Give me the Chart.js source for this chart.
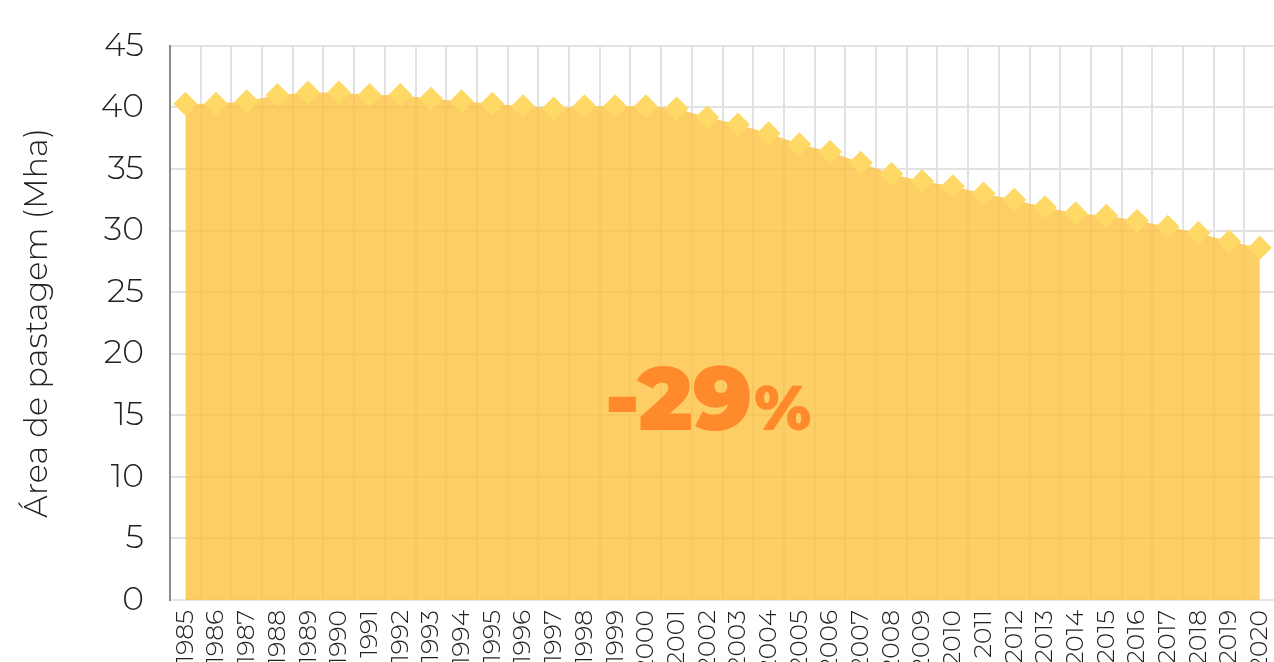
<!DOCTYPE html>
<html>
<head>
<meta charset="utf-8">
<script src="https://cdn.jsdelivr.net/npm/chart.js@4.4.1/dist/chart.umd.min.js"></script>
<style>
  html, body { margin: 0; padding: 0; background: #fff; overflow: hidden; }
  #wrap { width: 1300px; height: 684px; }
</style>
</head>
<body>
<div id="wrap"><canvas id="chart"></canvas></div>
<script>
// pasture area (Mha), 1985-2020
const years = ['1985','1986','1987','1988','1989','1990','1991','1992','1993','1994',
  '1995','1996','1997','1998','1999','2000','2001','2002','2003','2004',
  '2005','2006','2007','2008','2009','2010','2011','2012','2013','2014',
  '2015','2016','2017','2018','2019','2020'];
const pastureArea = [40.3, 40.3, 40.5, 41.0, 41.2, 41.2, 41.0, 41.0, 40.7, 40.5,
  40.3, 40.1, 39.9, 40.1, 40.1, 40.1, 39.9, 39.2, 38.6, 37.9,
  37.0, 36.4, 35.5, 34.6, 34.0, 33.6, 33.0, 32.5, 31.9, 31.4,
  31.2, 30.8, 30.3, 29.8, 29.1, 28.6];
const yTicks = [0, 5, 10, 15, 20, 25, 30, 35, 40, 45];
const changeLabel = '-29';

const FONT = "Montserrat, Lato, 'Open Sans', sans-serif";

// big "-29%" in the middle of the area
const changeText = {
  id: 'changeText',
  afterDatasetsDraw(chart) {
    const ctx = chart.ctx;
    ctx.save();
    ctx.fillStyle = '#FF8A2B';
    ctx.textBaseline = 'alphabetic';
    ctx.font = "900 90px " + FONT;
    const w1 = ctx.measureText(changeLabel).width;
    ctx.font = "900 62px " + FONT;
    const w2 = ctx.measureText('%').width;
    const cx = 708, base = 430;
    const x = cx - (w1 + w2 + 2) / 2;
    ctx.textAlign = 'left';
    ctx.font = "900 90px " + FONT;
    ctx.fillText(changeLabel, x, base);
    ctx.font = "900 62px " + FONT;
    ctx.fillText('%', x + w1 + 2, base);
    ctx.restore();
  }
};

new Chart(document.getElementById('chart'), {
  type: 'line',
  data: {
    labels: years,
    datasets: [{
      data: pastureArea,
      fill: 'origin',
      backgroundColor: 'rgba(253,192,64,0.8)',
      borderWidth: 0,
      borderColor: 'rgba(0,0,0,0)',
      tension: 0,
      pointStyle: 'rectRot',
      pointRadius: 12,
      pointHoverRadius: 12,
      pointBackgroundColor: '#FFD966',
      pointBorderWidth: 0
    }]
  },
  options: {
    responsive: true,
    maintainAspectRatio: false,
    animation: false,
    layout: { padding: { top: 44, left: 0, right: 0, bottom: 0 } },
    plugins: {
      legend: { display: false },
      tooltip: { enabled: false }
    },
    scales: {
      x: {
        offset: true,
        grid: { offset: true, color: '#e2e2e2', lineWidth: 2, drawTicks: false },
        border: { color: '#e6e6e6', width: 2 },
        ticks: {
          autoSkip: false,
          minRotation: 90,
          maxRotation: 90,
          padding: 10,
          color: '#222',
          font: { family: FONT, size: 25, weight: 300 }
        },
        afterFit(scale) { scale.height = 84; }
      },
      y: {
        min: 0,
        max: 45,
        afterBuildTicks(scale) { scale.ticks = yTicks.map(v => ({ value: v })); },
        grid: { color: '#e2e2e2', lineWidth: 2, drawTicks: false },
        border: { color: '#8a8a8a', width: 2 },
        ticks: {
          padding: 26,
          color: '#222',
          font: { family: FONT, size: 33, weight: 300 }
        },
        title: {
          display: true,
          text: 'Área de pastagem (Mha)',
          color: '#222',
          padding: { top: 18, bottom: 0 },
          font: { family: FONT, size: 32, weight: 300 }
        },
        afterFit(scale) { scale.width = 170; }
      }
    }
  },
  plugins: [changeText]
});
</script>
</body>
</html>
